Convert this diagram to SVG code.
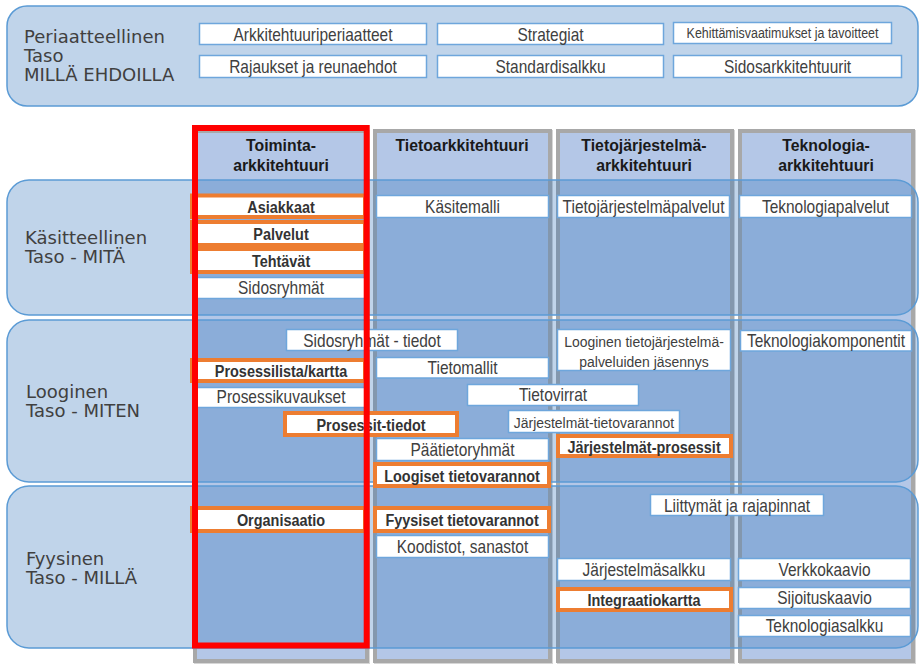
<svg xmlns="http://www.w3.org/2000/svg" width="920" height="665" viewBox="0 0 920 665">
<style>
.bandtop{fill:#c0d4ea;stroke:#5b9bd5;stroke-width:1.5}
.band{fill:rgba(46,112,186,0.3);stroke:#5b9bd5;stroke-width:1.5}
.col{fill:#b4c7e7;stroke:#a8a8a8;stroke-width:4}
.colsh{fill:none;stroke:#8a8a8a;stroke-width:4;opacity:0.35}
.box{fill:#fff;stroke:#6ea6dc;stroke-width:1.5}
.obox{fill:#fff;stroke:#ed7d31;stroke-width:4}
.lvl{font-family:"DejaVu Sans",Verdana,sans-serif;font-size:18px;fill:#404040}
.t,.b,.s,.k,.h{font-family:"Liberation Sans",Arial,sans-serif;text-anchor:middle}
.t{font-size:18px;fill:#404040;transform-box:fill-box;transform-origin:50% 50%;transform:scaleX(0.86)}
.s{font-size:15.5px;fill:#404040;transform-box:fill-box;transform-origin:50% 50%;transform:scaleX(0.9)}
.k{font-size:14.5px;fill:#404040;transform-box:fill-box;transform-origin:50% 50%;transform:scaleX(0.86)}
.b{font-size:17px;font-weight:bold;fill:#333;transform-box:fill-box;transform-origin:50% 50%;transform:scaleX(0.85)}
.h{font-size:15.8px;font-weight:bold;fill:#1a1a1a}
.red{fill:none;stroke:#ff0000;stroke-width:6}
</style>

<g id="principle-level">
  <rect class="bandtop" x="7" y="6" width="911" height="100" rx="20"/>
  <text class="lvl" x="24" y="43">Periaatteellinen</text>
  <text class="lvl" x="24" y="62">Taso</text>
  <text class="lvl" x="24" y="81">MILLÄ EHDOILLA</text>
</g>
<g id="p-arkkitehtuuriperiaatteet"><rect class="box" x="199.5" y="23.5" width="227" height="21"/><text class="t" x="313" y="41">Arkkitehtuuriperiaatteet</text></g>
<g id="p-rajaukset"><rect class="box" x="199.5" y="55.5" width="227" height="22"/><text class="t" x="313" y="73">Rajaukset ja reunaehdot</text></g>
<g id="p-strategiat"><rect class="box" x="437.5" y="23.5" width="226" height="21"/><text class="t" x="550.5" y="41">Strategiat</text></g>
<g id="p-standardisalkku"><rect class="box" x="437.5" y="55.5" width="226" height="22"/><text class="t" x="550.5" y="73">Standardisalkku</text></g>
<g id="p-kehittamis"><rect class="box" x="673.5" y="22.5" width="218" height="21"/><text class="k" x="782.5" y="38.5">Kehittämisvaatimukset ja tavoitteet</text></g>
<g id="p-sidosarkkitehtuurit"><rect class="box" x="673.5" y="55.5" width="228" height="22"/><text class="t" x="787.5" y="73">Sidosarkkitehtuurit</text></g>

<g id="columns">
  <g id="col-toiminta">
    <rect class="colsh" x="196" y="132" width="172" height="530"/>
    <rect class="col" x="195" y="131" width="172" height="530"/>
    <text class="h" x="281" y="151">Toiminta-</text>
    <text class="h" x="281" y="171">arkkitehtuuri</text>
  </g>
  <g id="col-tieto">
    <rect class="colsh" x="376" y="132" width="175" height="530"/>
    <rect class="col" x="375" y="131" width="175" height="530"/>
    <text class="h" x="462" y="151">Tietoarkkitehtuuri</text>
  </g>
  <g id="col-tietojarjestelma">
    <rect class="colsh" x="559" y="132" width="174" height="530"/>
    <rect class="col" x="558" y="131" width="174" height="530"/>
    <text class="h" x="644" y="151">Tietojärjestelmä-</text>
    <text class="h" x="644" y="171">arkkitehtuuri</text>
  </g>
  <g id="col-teknologia">
    <rect class="colsh" x="741" y="132" width="173" height="530"/>
    <rect class="col" x="740" y="131" width="173" height="530"/>
    <text class="h" x="826" y="151">Teknologia-</text>
    <text class="h" x="826" y="171">arkkitehtuuri</text>
  </g>
</g>

<g id="conceptual-level">
  <rect class="band" x="7" y="180" width="911" height="135" rx="22"/>
  <text class="lvl" x="25" y="244">Käsitteellinen</text>
  <text class="lvl" x="25" y="263">Taso - MITÄ</text>
</g>
<g id="logical-level">
  <rect class="band" x="7" y="320" width="911" height="162" rx="22"/>
  <text class="lvl" x="26" y="398">Looginen</text>
  <text class="lvl" x="26" y="417">Taso - MITEN</text>
</g>
<g id="physical-level">
  <rect class="band" x="7" y="486" width="911" height="162" rx="22"/>
  <text class="lvl" x="26" y="565">Fyysinen</text>
  <text class="lvl" x="26" y="584">Taso - MILLÄ</text>
</g>

<!-- Käsitteellinen -->
<g id="asiakkaat"><rect class="obox" x="192" y="195.5" width="173" height="21.5"/><text class="b" x="281" y="213">Asiakkaat</text></g>
<g id="palvelut"><rect class="obox" x="192" y="222" width="173" height="23"/><text class="b" x="281" y="240">Palvelut</text></g>
<g id="tehtavat"><rect class="obox" x="192" y="249" width="173" height="23"/><text class="b" x="281" y="267">Tehtävät</text></g>
<g id="sidosryhmat"><rect class="box" x="196.5" y="277.5" width="169" height="21"/><text class="t" x="281" y="294.5">Sidosryhmät</text></g>
<g id="kasitemalli"><rect class="box" x="376.5" y="195.5" width="172" height="22"/><text class="t" x="462.5" y="213.5">Käsitemalli</text></g>
<g id="tietojarjestelmapalvelut"><rect class="box" x="557.5" y="195.5" width="172" height="22"/><text class="t" x="643.5" y="213.5">Tietojärjestelmäpalvelut</text></g>
<g id="teknologiapalvelut"><rect class="box" x="739.5" y="195.5" width="172" height="22"/><text class="t" x="825.5" y="213.5">Teknologiapalvelut</text></g>

<!-- Looginen -->
<g id="sidosryhmat-tiedot"><rect class="box" x="286.5" y="329.5" width="171" height="21"/><text class="t" x="372" y="347">Sidosryhmät - tiedot</text></g>
<g id="prosessilista"><rect class="obox" x="192" y="360" width="173" height="21"/><text class="b" x="281" y="377">Prosessilista/kartta</text></g>
<g id="prosessikuvaukset"><rect class="box" x="196.5" y="387.5" width="169" height="20"/><text class="t" x="281" y="403.5">Prosessikuvaukset</text></g>
<g id="tietomallit"><rect class="box" x="376.5" y="357.5" width="172" height="20.5"/><text class="t" x="462.5" y="374">Tietomallit</text></g>
<g id="tietovirrat"><rect class="box" x="467.5" y="384.5" width="171" height="21"/><text class="t" x="553" y="401.5">Tietovirrat</text></g>
<g id="prosessit-tiedot"><rect class="obox" x="285" y="413" width="172" height="22"/><text class="b" x="371" y="431.5">Prosessit-tiedot</text></g>
<g id="jarjestelmat-tietovarannot"><rect class="box" x="508.5" y="410.5" width="171" height="22"/><text class="s" x="594" y="428.5">Järjestelmät-tietovarannot</text></g>
<g id="paatietoryhmat"><rect class="box" x="376.5" y="438.5" width="172" height="22"/><text class="t" x="462.5" y="456">Päätietoryhmät</text></g>
<g id="loogiset-tietovarannot"><rect class="obox" x="375" y="464" width="174" height="22"/><text class="b" x="462" y="482">Loogiset tietovarannot</text></g>
<g id="looginen-jasennys"><rect class="box" x="557.5" y="329.5" width="173" height="41"/><text class="s" x="644" y="347">Looginen tietojärjestelmä-</text><text class="s" x="644" y="367">palveluiden jäsennys</text></g>
<g id="teknologiakomponentit"><rect class="box" x="740.5" y="330.5" width="171" height="20.5"/><text class="t" x="826" y="347">Teknologiakomponentit</text></g>
<g id="jarjestelmat-prosessit"><rect class="obox" x="558" y="436" width="173" height="20"/><text class="b" x="644" y="453">Järjestelmät-prosessit</text></g>

<!-- Fyysinen -->
<g id="organisaatio"><rect class="obox" x="192" y="508" width="173" height="23"/><text class="b" x="281" y="526">Organisaatio</text></g>
<g id="fyysiset-tietovarannot"><rect class="obox" x="375" y="508" width="174" height="23"/><text class="b" x="462" y="526">Fyysiset tietovarannot</text></g>
<g id="koodistot"><rect class="box" x="376.5" y="535.5" width="172" height="22"/><text class="t" x="462.5" y="553">Koodistot, sanastot</text></g>
<g id="liittymat"><rect class="box" x="650.5" y="494.5" width="173" height="21"/><text class="t" x="737" y="512">Liittymät ja rajapinnat</text></g>
<g id="jarjestelmasalkku"><rect class="box" x="557.5" y="558.5" width="173" height="22"/><text class="t" x="644" y="576">Järjestelmäsalkku</text></g>
<g id="integraatiokartta"><rect class="obox" x="558" y="589" width="173" height="21"/><text class="b" x="644" y="606">Integraatiokartta</text></g>
<g id="verkkokaavio"><rect class="box" x="738.5" y="558.5" width="172" height="22"/><text class="t" x="824.5" y="576">Verkkokaavio</text></g>
<g id="sijoituskaavio"><rect class="box" x="738.5" y="587.5" width="172" height="21"/><text class="t" x="824.5" y="604">Sijoituskaavio</text></g>
<g id="teknologiasalkku"><rect class="box" x="738.5" y="615.5" width="172" height="21"/><text class="t" x="824.5" y="632">Teknologiasalkku</text></g>

<g id="highlight">
  <rect class="red" x="195" y="128" width="171.7" height="517.5"/>
</g>
</svg>
